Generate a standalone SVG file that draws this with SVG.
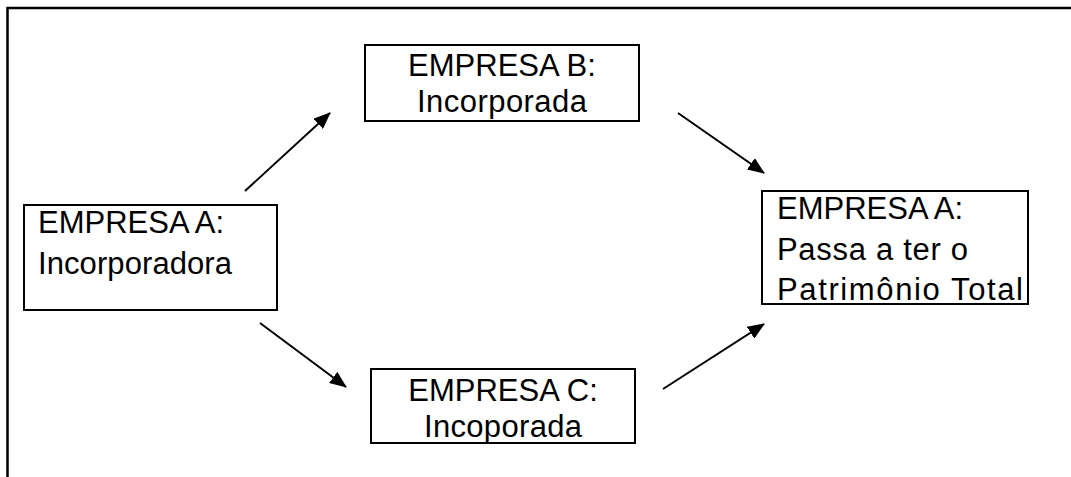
<svg xmlns="http://www.w3.org/2000/svg" width="1071" height="477" viewBox="0 0 1071 477">
  <style>
    .box { fill: #ffffff; stroke: #000000; stroke-width: 2; }
    .lbl { font-family: "Liberation Sans", Arial, Helvetica, sans-serif; font-size: 31px; fill: #000000; }
    .mid { text-anchor: middle; }
    .frame { fill: none; stroke: #000000; stroke-width: 2.5; }
    .conn { stroke: #000000; stroke-width: 2; fill: none; }
  </style>
  <defs>
    <marker id="head" markerUnits="userSpaceOnUse" markerWidth="18" markerHeight="14" refX="16" refY="7" orient="auto">
      <path d="M0,0 L17,7 L0,14 z" fill="#000000"/>
    </marker>
  </defs>

  <rect width="1071" height="477" fill="#ffffff"/>

  <!-- page frame -->
  <path class="frame" d="M7.5,477 V8 H1071"/>

  <!-- connectors -->
  <g id="connectors">
    <line class="conn" x1="245" y1="191" x2="330" y2="113" marker-end="url(#head)"/>
    <line class="conn" x1="678" y1="113" x2="764" y2="173" marker-end="url(#head)"/>
    <line class="conn" x1="260" y1="323" x2="346" y2="387" marker-end="url(#head)"/>
    <line class="conn" x1="663" y1="389" x2="764" y2="324" marker-end="url(#head)"/>
  </g>

  <g id="empresa-a-incorporadora">
    <rect class="box" x="24" y="205" width="253" height="105"/>
    <text class="lbl" x="38" y="233">EMPRESA A:</text>
    <text class="lbl" x="38" y="274" textLength="194" lengthAdjust="spacing">Incorporadora</text>
  </g>

  <g id="empresa-b">
    <rect class="box" x="365" y="45" width="274" height="76"/>
    <text class="lbl mid" x="502" y="76">EMPRESA B:</text>
    <text class="lbl mid" x="502" y="112" textLength="170" lengthAdjust="spacing">Incorporada</text>
  </g>

  <g id="empresa-c">
    <rect class="box" x="371" y="369" width="264" height="74"/>
    <text class="lbl mid" x="503" y="401">EMPRESA C:</text>
    <text class="lbl mid" x="503" y="437" textLength="158" lengthAdjust="spacing">Incoporada</text>
  </g>

  <g id="empresa-a-resultado">
    <rect class="box" x="762" y="191" width="266" height="113"/>
    <text class="lbl" x="777" y="219">EMPRESA A:</text>
    <text class="lbl" x="777" y="260" textLength="191" lengthAdjust="spacing">Passa a ter o</text>
    <text class="lbl" x="777" y="300" textLength="246" lengthAdjust="spacing">Patrimônio Total</text>
  </g>
</svg>
